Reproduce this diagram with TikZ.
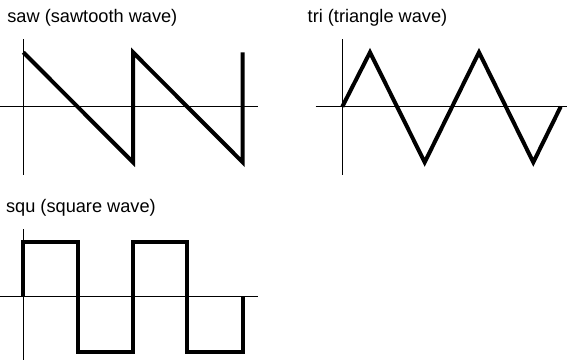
\documentclass[tikz,border=0pt]{standalone}
\usepackage{fontspec}
\setmainfont{Liberation Sans}
\usetikzlibrary{positioning}

\tikzset{
    axis/.style={line width=0.5pt},
    wave/.style={line width=2pt, line join=miter, line cap=butt},
    title/.style={anchor=west, inner sep=0pt, font=\fontsize{9.1}{11}\selectfont},
}

\begin{document}
\begin{tikzpicture}[x=0.5pt,y=-0.5pt]
    \useasboundingbox (0,0) rectangle (568,360);

    % sawtooth
    \node[title] (sawlabel) at (7,18) {saw (sawtooth wave)};
    \draw[axis] (23.3,39) -- (23.3,175);
    \draw[axis] (0,106.7) -- (258,106.7);
    \draw[wave] (23.3,52.3) -- (133,162.3) -- (133,52.3) -- (242.7,162.3) -- (242.7,52.3);

    % triangle
    \node[title] (trilabel) at (307.3,18) {tri (triangle wave)};
    \draw[axis] (342.3,39) -- (342.3,175);
    \draw[axis] (315.7,106.7) -- (567.3,106.7);
    \draw[wave] (342.3,106.7) -- (370,52.3) -- (424.7,162.3) -- (479,52.3)
        -- (533.3,162.3) -- (560.7,106.7);

    % square
    \node[title] (squlabel) at (5.7,208) {squ (square wave)};
    \draw[axis] (23.3,229) -- (23.3,360);
    \draw[axis] (0,296.7) -- (258,296.7);
    \draw[wave] (23.3,296.7) -- (23.3,241.7) -- (77.7,241.7) -- (77.7,351.7)
        -- (133,351.7) -- (133,241.7) -- (186.7,241.7) -- (186.7,351.7)
        -- (242.7,351.7) -- (242.7,296.7);
\end{tikzpicture}
\end{document}
